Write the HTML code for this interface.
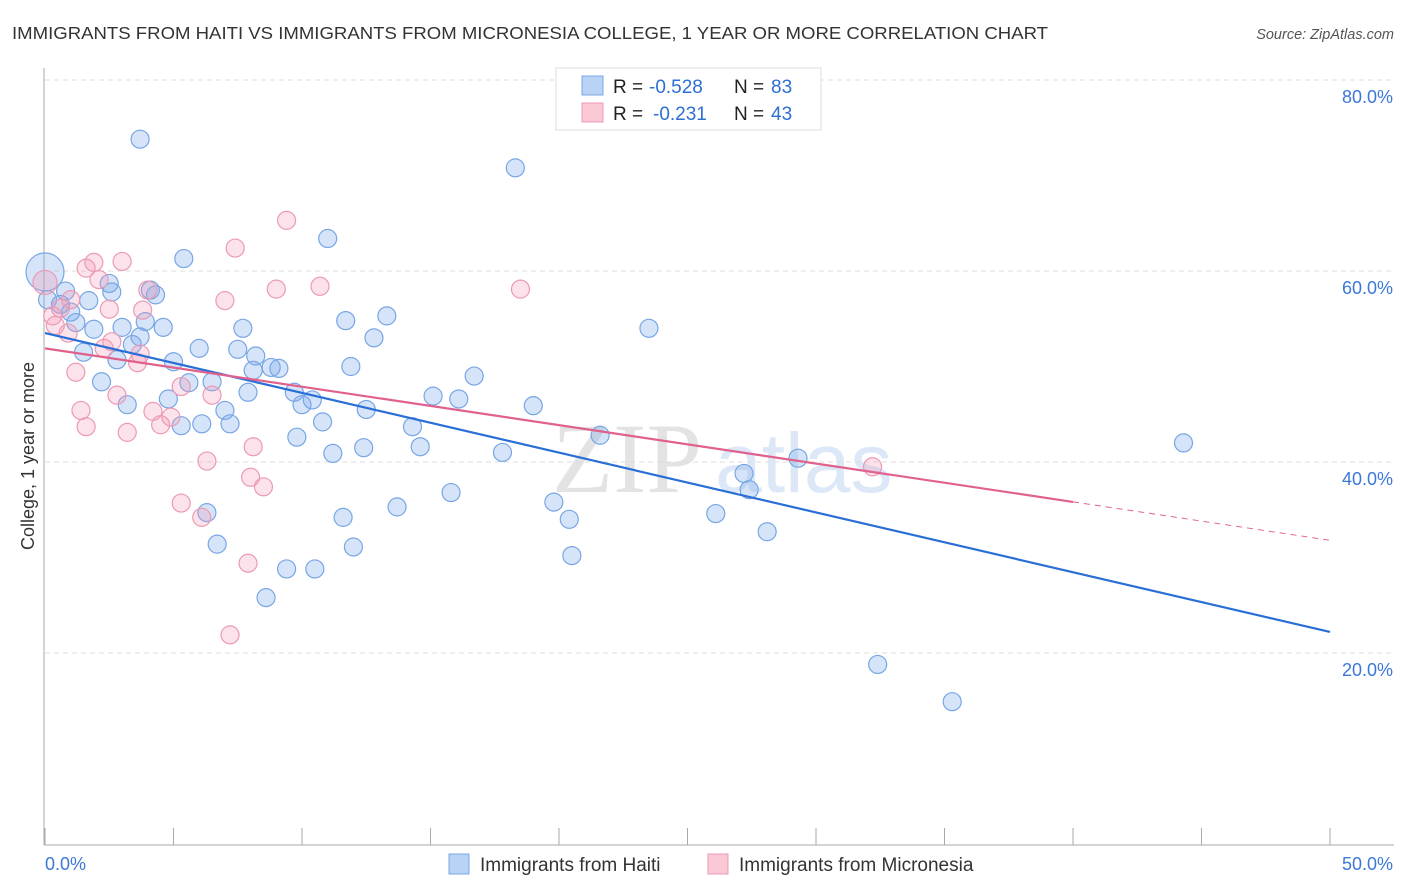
<!DOCTYPE html>
<html><head><meta charset="utf-8">
<style>
body{margin:0;background:#fff;font-family:"Liberation Sans",sans-serif;}
#wrap{position:relative;width:1406px;height:892px;overflow:hidden;}
</style></head>
<body>
<div id="wrap">
<svg id="svg" width="1406" height="892" xmlns="http://www.w3.org/2000/svg">
<text x="12" y="39" font-size="17.5" fill="#333" textLength="1036" lengthAdjust="spacingAndGlyphs">IMMIGRANTS FROM HAITI VS IMMIGRANTS FROM MICRONESIA COLLEGE, 1 YEAR OR MORE CORRELATION CHART</text>
<text x="1394" y="39" font-size="14.5" fill="#555" font-style="italic" text-anchor="end">Source: ZipAtlas.com</text>
<text transform="translate(34,456) rotate(-90)" font-size="18" fill="#333" text-anchor="middle">College, 1 year or more</text>
<g>
<text x="552" y="492" font-size="100" font-family="Liberation Serif,serif" fill="#e3e3e3">ZIP</text>
<text x="715" y="492" font-size="84" fill="#dce8f7">atlas</text>
</g>
<g id="grid"></g>
<g id="axes"></g>
<g id="pts"></g>
<g id="lines"></g>
<g>
<rect x="556" y="68" width="265" height="62" fill="#fff" stroke="#ddd"/>
<rect x="582" y="76" width="21" height="19" fill="#b9d3f5" stroke="#7aa8e6"/>
<rect x="582" y="103" width="21" height="19" fill="#fbc8d6" stroke="#ee9ab4"/>
<text x="613" y="93" font-size="19" fill="#222">R =</text>
<text x="649" y="93" font-size="19" fill="#2d6fd3">-0.528</text>
<text x="734" y="93" font-size="19" fill="#222">N =</text>
<text x="771" y="93" font-size="19" fill="#2d6fd3">83</text>
<text x="613" y="120" font-size="19" fill="#222">R =</text>
<text x="653" y="120" font-size="19" fill="#2d6fd3">-0.231</text>
<text x="734" y="120" font-size="19" fill="#222">N =</text>
<text x="771" y="120" font-size="19" fill="#2d6fd3">43</text>
</g>
<g>
<rect x="449" y="854" width="20" height="20" fill="#b9d3f5" stroke="#7aa8e6"/>
<text x="480" y="871" font-size="19" fill="#333">Immigrants from Haiti</text>
<rect x="708" y="854" width="20" height="20" fill="#fbc8d6" stroke="#ee9ab4"/>
<text x="739" y="871" font-size="19" fill="#333">Immigrants from Micronesia</text>
</g>
</svg>
</div>
<script>
const xTicks=[0,5,10,15,20,25,30,35,40,45,50];
const yTicks=[20,40,60,80];
const yTickLabels=["20.0%","40.0%","60.0%","80.0%"];
const haitiX=[3.7,18.3,5.4,11.0,0.8,2.6,4.3,2.5,4.1,1.7,0.6,1.0,1.2,1.9,3.0,4.6,3.9,7.7,11.7,13.3,12.8,1.5,2.8,3.4,3.7,6.0,5.0,7.5,8.2,8.8,8.1,9.1,11.9,16.7,23.5,2.2,5.6,6.5,7.9,9.7,10.0,10.4,15.1,16.1,19.0,3.2,4.8,7.0,12.5,5.3,6.1,7.2,9.8,10.8,14.3,11.2,12.4,14.6,17.8,21.6,27.2,27.4,29.3,44.3,15.8,19.8,20.4,13.7,11.6,6.3,6.7,12.0,20.5,26.1,28.1,9.4,10.5,8.6,32.4,35.3,0.1,0.0];
const haitiY=[73.8,70.8,61.3,63.4,57.9,57.8,57.5,58.7,58.0,56.9,56.5,55.7,54.6,53.9,54.1,54.1,54.7,54.0,54.8,55.3,53.0,51.5,50.7,52.3,53.1,51.9,50.5,51.8,51.1,49.9,49.6,49.8,50.0,49.0,54.0,48.4,48.3,48.4,47.3,47.3,46.0,46.5,46.9,46.6,45.9,46.0,46.6,45.4,45.5,43.8,44.0,44.0,42.6,44.2,43.7,40.9,41.5,41.6,41.0,42.8,38.8,37.1,40.4,42.0,36.8,35.8,34.0,35.3,34.2,34.7,31.4,31.1,30.2,34.6,32.7,28.8,28.8,25.8,18.8,14.9,57.0,59.9];
const microX=[9.4,7.4,1.9,3.0,1.6,2.1,0.0,4.0,7.0,9.0,10.7,18.5,1.0,0.6,0.3,0.4,2.5,3.8,0.9,2.3,2.6,3.7,3.6,1.2,5.3,6.5,2.8,1.4,4.2,4.9,4.5,1.6,3.2,8.1,6.3,8.0,8.5,5.3,6.1,7.9,7.2,32.2];
const microY=[65.3,62.4,60.9,61.0,60.3,59.1,58.8,58.0,56.9,58.1,58.4,58.1,57.0,56.1,55.3,54.3,56.0,55.9,53.5,51.9,52.6,51.3,50.4,49.4,47.9,47.0,47.0,45.4,45.3,44.7,43.9,43.7,43.1,41.6,40.1,38.4,37.4,35.7,34.2,29.4,21.9,39.5];
const haitiTrend=[53.5,22.2];
const microTrend=[51.9,31.8];
const microSolidEnd=40;
const NS="http://www.w3.org/2000/svg";
const X=v=>45+v*25.7, Y=v=>844-v*9.55;
function mk(tag,attrs,parent){const e=document.createElementNS(NS,tag);for(const k in attrs)e.setAttribute(k,attrs[k]);parent.appendChild(e);return e;}
const grid=document.getElementById('grid'),axes=document.getElementById('axes'),pts=document.getElementById('pts'),lines=document.getElementById('lines');
yTicks.forEach((t,i)=>{
 const l=mk('line',{x1:45,x2:1394,y1:Y(t),y2:Y(t),stroke:'#ddd','stroke-dasharray':'5,4'},grid);
 
 
 const tx=mk('text',{x:1393,y:Y(t)+23,'font-size':18,fill:'#3b78d8','text-anchor':'end'},axes);
 tx.textContent=yTickLabels[i];
 
 
});
const ax=mk('line',{x1:44,x2:44,y1:68,y2:845,stroke:'#aaa'},axes);


const bx=mk('line',{x1:44,x2:1394,y1:845,y2:845,stroke:'#aaa'},axes);


xTicks.forEach(t=>{
 const l=mk('line',{x1:X(t),x2:X(t),y1:828,y2:845,stroke:'#aaa'},axes);
 
 
});
const xl=mk('text',{x:45,y:870,'font-size':18,fill:'#3b78d8'},axes);xl.textContent='0.0%';


const xr=mk('text',{x:1393,y:870,'font-size':18,fill:'#3b78d8','text-anchor':'end'},axes);xr.textContent='50.0%';


function dots(xs,ys,fill,stroke,name,bigIdx,bigR){
 xs.forEach((x,i)=>{
  const c=mk('circle',{cx:X(x),cy:Y(ys[i]),r:i===bigIdx?bigR:9,fill:fill,stroke:stroke,'stroke-width':1.2},pts);
  
  
 });
}
dots(haitiX,haitiY,'rgba(120,165,235,0.3)','#78a6e4','haiti-point',haitiX.length-1,19);
dots(microX,microY,'rgba(245,150,180,0.28)','#ec9ab4','micronesia-point',6,12);
const tb=mk('line',{x1:X(0),y1:Y(haitiTrend[0]),x2:X(50),y2:Y(haitiTrend[1]),stroke:'#2a6fd6','stroke-width':2.2},lines);


const py=x=>microTrend[0]+(microTrend[1]-microTrend[0])*x/50;
const tp=mk('line',{x1:X(0),y1:Y(py(0)),x2:X(microSolidEnd),y2:Y(py(microSolidEnd)),stroke:'#e0618d','stroke-width':2.2},lines);


const td=mk('line',{x1:X(microSolidEnd),y1:Y(py(microSolidEnd)),x2:X(50),y2:Y(py(50)),stroke:'#e0618d','stroke-width':1,'stroke-dasharray':'6,5'},lines);


</script>
</body></html>
